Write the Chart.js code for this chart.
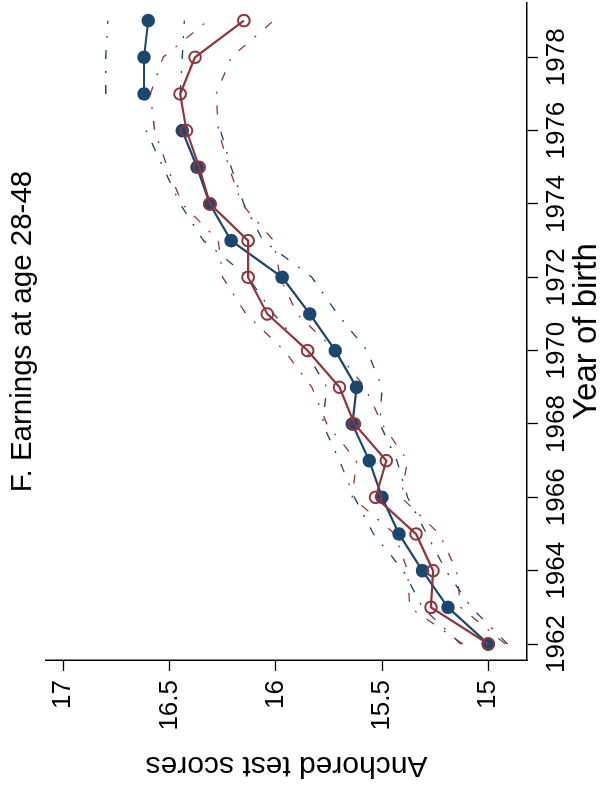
<!DOCTYPE html>
<html>
<head>
<meta charset="utf-8">
<script src="https://cdn.jsdelivr.net/npm/chart.js@4.4.1/dist/chart.umd.min.js"></script>
<style>
html, body { margin: 0; padding: 0; background: #fff; overflow: hidden; width: 600px; height: 789px; }
/* the chart is drawn the normal way round and then turned a quarter turn */
#wrap { position: absolute; left: 0; top: 0; width: 789px; height: 620px; transform-origin: 0 0; transform: translate(0, 789px) rotate(-90deg); }
</style>
</head>
<body>
<div id="wrap"><canvas id="myChart" width="789" height="620"></canvas></div>
<script>
const years = [1962, 1963, 1964, 1965, 1966, 1967, 1968, 1969, 1970, 1971, 1972, 1973, 1974, 1975, 1976, 1977, 1978, 1979];

const navyScores = [15.00, 15.19, 15.31, 15.42, 15.50, 15.56, 15.64, 15.62, 15.72, 15.84, 15.97, 16.21, 16.31, 16.37, 16.44, 16.62, 16.62, 16.60];
const navyUpper  = [15.13, 15.31, 15.40, 15.54, 15.63, 15.70, 15.78, 15.76, 15.86, 16.01, 16.13, 16.34, 16.45, 16.53, 16.61, 16.80, 16.80, 16.79];
const navyLower  = [14.91, 15.08, 15.20, 15.29, 15.38, 15.43, 15.51, 15.50, 15.57, 15.71, 15.83, 16.06, 16.15, 16.21, 16.26, 16.45, 16.44, 16.43];

const maroonScores = [15.00, 15.27, 15.26, 15.34, 15.53, 15.48, 15.63, 15.70, 15.85, 16.04, 16.13, 16.13, 16.31, 16.36, 16.42, 16.45, 16.38, 16.15];
const maroonUpper  = [15.12, 15.37, 15.38, 15.44, 15.64, 15.62, 15.76, 15.83, 15.96, 16.14, 16.25, 16.27, 16.44, 16.51, 16.57, 16.59, 16.53, 16.32];
const maroonLower  = [14.92, 15.13, 15.15, 15.23, 15.41, 15.38, 15.50, 15.58, 15.72, 15.90, 15.98, 16.01, 16.16, 16.22, 16.27, 16.28, 16.21, 16.01];

// the navy series is not joined between these two years
const navyBreakAfter = 1976;

const yearTicks = [1962, 1964, 1966, 1968, 1970, 1972, 1974, 1976, 1978];
const scoreTicks = [15, 15.5, 16, 16.5, 17];

const navy = '#1a476f';
const maroon = '#90353b';
const ciDash = [9, 12, 2, 12];

function pts(vals) {
    return years.map((x, i) => ({ x: x, y: vals[i] }));
}

function breakNavy(ctx) {
    return years[ctx.p0DataIndex] === navyBreakAfter ? 'rgba(0,0,0,0)' : navy;
}

Chart.defaults.font.family = '"Liberation Sans", Arial, Helvetica, sans-serif';
Chart.defaults.color = '#000';

const ctx = document.getElementById('myChart');
const chart = new Chart(ctx, {
    type: 'line',
    data: {
        datasets: [
            {
                data: pts(maroonScores),
                borderColor: maroon,
                borderWidth: 2.2,
                pointRadius: 5.8,
                pointBorderWidth: 2,
                pointBorderColor: maroon,
                pointBackgroundColor: 'rgba(0,0,0,0)',
                tension: 0
            },
            {
                data: pts(navyScores),
                borderColor: navy,
                borderWidth: 2.2,
                pointRadius: 6.8,
                pointBorderWidth: 0,
                pointBackgroundColor: navy,
                tension: 0,
                segment: { borderColor: breakNavy }
            },
            {
                data: pts(maroonUpper),
                borderColor: maroon,
                borderWidth: 1.3,
                borderDash: ciDash,
                pointRadius: 0,
                tension: 0
            },
            {
                data: pts(maroonLower),
                borderColor: maroon,
                borderWidth: 1.3,
                borderDash: ciDash,
                pointRadius: 0,
                tension: 0
            },
            {
                data: pts(navyUpper),
                borderColor: navy,
                borderWidth: 1.3,
                borderDash: ciDash,
                pointRadius: 0,
                tension: 0,
                segment: { borderColor: breakNavy }
            },
            {
                data: pts(navyLower),
                borderColor: navy,
                borderWidth: 1.3,
                borderDash: ciDash,
                pointRadius: 0,
                tension: 0,
                segment: { borderColor: breakNavy }
            }
        ]
    },
    options: {
        responsive: false,
        animation: false,
        devicePixelRatio: 1,
        layout: { autoPadding: false, padding: { left: 0, right: 3, top: 0, bottom: 0 } },
        plugins: {
            legend: { display: false },
            tooltip: { enabled: false },
            title: {
                display: true,
                text: 'F. Earnings at age 28-48',
                fullSize: false,
                color: '#000',
                font: { size: 29.5, weight: 'normal' },
                padding: { top: 4.8, bottom: 5.8 }
            }
        },
        scales: {
            x: {
                type: 'linear',
                position: 'bottom',
                min: 1961.564,
                max: 1979.48,
                afterBuildTicks: s => { s.ticks = yearTicks.map(v => ({ value: v })); },
                afterFit: s => { s.height = 93; },
                grid: { drawOnChartArea: false, tickLength: 11, tickColor: '#000', tickWidth: 1.3 },
                border: { color: '#000', width: 1.5 },
                ticks: { font: { size: 26 }, padding: 3, color: '#000', maxRotation: 0, autoSkip: false, callback: v => String(v) },
                title: { display: true, text: 'Year of birth', color: '#000', font: { size: 33 }, padding: { top: 0, bottom: 13.7 } }
            },
            y: {
                type: 'linear',
                position: 'left',
                min: 14.818,
                max: 17.081,
                afterBuildTicks: s => { s.ticks = scoreTicks.map(v => ({ value: v })); },
                afterFit: s => { s.width = 129; },
                grid: { drawOnChartArea: false, tickLength: 11, tickColor: '#000', tickWidth: 1.3 },
                border: { color: '#000', width: 1.5 },
                ticks: { font: { size: 26 }, padding: 9, color: '#000', autoSkip: false, callback: v => String(v) },
                title: { display: true, text: 'Anchored test scores', color: '#000', font: { size: 30 }, padding: { top: 6, bottom: 0 } }
            }
        }
    }
});
</script>
</body>
</html>
